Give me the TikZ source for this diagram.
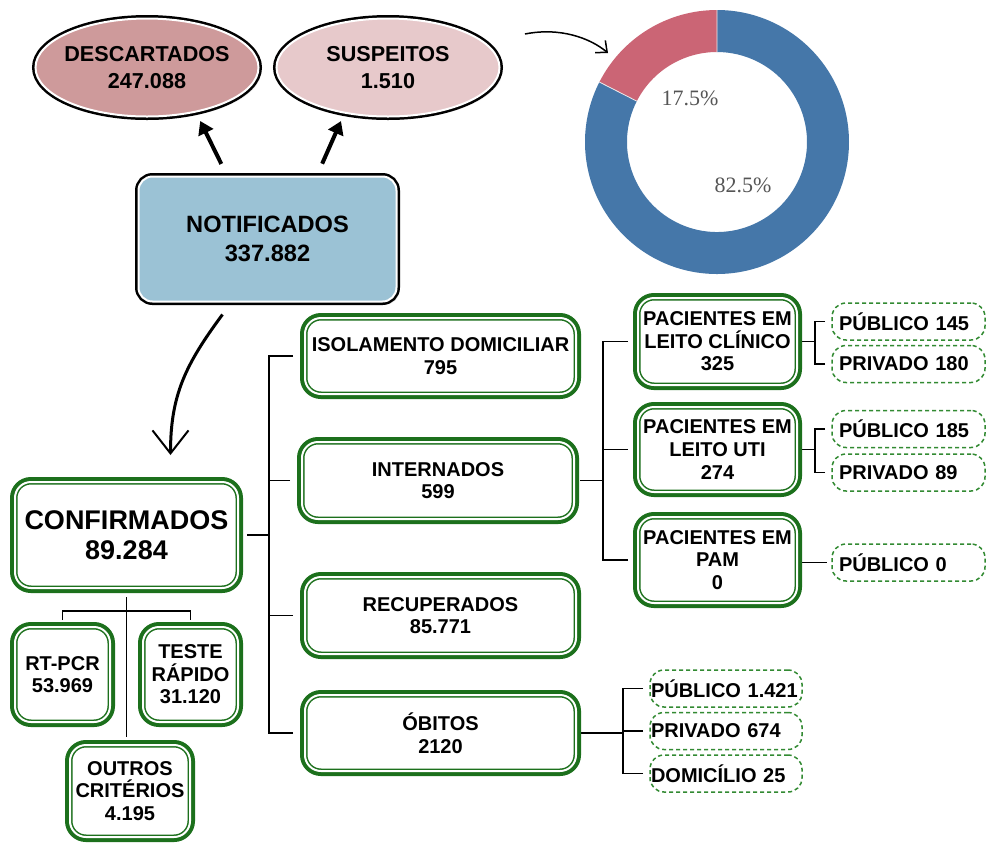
\documentclass[tikz,border=0pt]{standalone}
\usepackage{fontspec}
\setmainfont{Liberation Sans}
\newfontfamily\pctfont{Liberation Serif}
\usetikzlibrary{shapes.geometric,arrows.meta,calc,shadows,backgrounds}

\definecolor{descrose}{RGB}{206,154,155}
\definecolor{susprose}{RGB}{231,201,203}
\definecolor{notifblue}{RGB}{155,194,213}
\definecolor{ringblue}{RGB}{69,119,169}
\definecolor{ringred}{RGB}{203,101,117}
\definecolor{boxgreen}{RGB}{28,112,28}
\definecolor{dashgreen}{RGB}{50,138,50}
\definecolor{pctgray}{RGB}{85,85,85}

\tikzset{
  blackrim/.style={fill=#1,draw=white,line width=1pt,outer sep=0pt,
    drop shadow={shadow xshift=1.5pt,shadow yshift=-1.5pt,opacity=0.2},
    preaction={draw=black,line width=3.5pt}},
  oval/.style={ellipse,blackrim=#1,minimum width=111.5pt,minimum height=49pt,
    inner xsep=-12pt,inner ysep=0pt,align=center,
    font=\fontsize{10.8}{13.5}\selectfont\bfseries},
  gbox/.style={rectangle,rounded corners=8pt,fill=white,draw=boxgreen,
    line width=0.75pt,double=white,double distance=1pt,outer sep=0pt,
    preaction={draw=boxgreen,line width=5pt},align=center,inner sep=1pt,
    font=\fontsize{10}{11.3}\selectfont\bfseries},
  dashbox/.style={rectangle,rounded corners=7pt,draw=dashgreen,fill=white,
    line width=0.75pt,dash pattern=on 2pt off 1.5pt,outer sep=0pt,
    minimum height=18.5pt,text width=69.5pt,inner xsep=3.5pt,inner ysep=0pt,
    align=left,font=\fontsize{10}{11.3}\selectfont\bfseries},
  tline/.style={draw=black,line width=0.9pt},
  fatarrow/.style={line width=2pt,-{Triangle[length=6.5pt,width=8pt]}},
  pctlabel/.style={text=pctgray,font=\pctfont\fontsize{11}{13}\selectfont}
}

\begin{document}
\begin{tikzpicture}[x=0.5pt,y=-0.5pt]
    \useasboundingbox (0,0) rectangle (993,843);

    \node[oval=descrose] (descartados) at (147,67.5) {DESCARTADOS\\247.088};
    \node[oval=susprose] (suspeitos) at (388,67.5) {SUSPEITOS\\1.510};
    \node[rectangle,rounded corners=7pt,blackrim=notifblue,minimum width=129pt,
      minimum height=62.5pt,align=center,font=\fontsize{11.8}{14.5}\selectfont\bfseries]
      (notificados) at (267.5,239) {NOTIFICADOS\\337.882};

    \node[gbox,minimum width=111.5pt,minimum height=53pt,
      font=\fontsize{13.5}{15}\selectfont\bfseries] (confirmados) at (126.5,535) {CONFIRMADOS\\89.284};
    \node[gbox,minimum width=47.5pt,minimum height=47.5pt] (rtpcr) at (62.5,674.5) {RT-PCR\\53.969};
    \node[gbox,minimum width=47.5pt,minimum height=47.5pt] (teste) at (190.5,674.5) {TESTE\\RÁPIDO\\31.120};
    \node[gbox,minimum width=60pt,minimum height=46pt] (outros) at (130,791) {OUTROS\\CRITÉRIOS\\4.195};

    \node[gbox,minimum width=135.5pt,minimum height=38pt] (isolamento) at (440.5,356) {ISOLAMENTO DOMICILIAR\\795};
    \node[gbox,minimum width=136pt,minimum height=38.5pt] (internados) at (438,480.5) {INTERNADOS\\599};
    \node[gbox,minimum width=135.5pt,minimum height=38.5pt] (recuperados) at (440.5,615.5) {RECUPERADOS\\85.771};
    \node[gbox,minimum width=135.5pt,minimum height=38pt] (obitos) at (440.5,733) {ÓBITOS\\2120};

    \node[gbox,minimum width=79.5pt,minimum height=43.5pt] (clinico) at (717.5,341.5) {PACIENTES EM\\LEITO CLÍNICO\\325};
    \node[gbox,minimum width=79.5pt,minimum height=42.5pt] (uti) at (717.5,449.5) {PACIENTES EM\\LEITO UTI\\274};
    \node[gbox,minimum width=79.5pt,minimum height=43pt] (pam) at (717.5,560) {PACIENTES EM\\PAM\\0};

    \node[dashbox] (pub145) at (908.5,321.5) {PÚBLICO 145};
    \node[dashbox] (priv180) at (908.5,364) {PRIVADO 180};
    \node[dashbox] (pub185) at (908.5,429) {PÚBLICO 185};
    \node[dashbox] (priv89) at (908.5,472.5) {PRIVADO 89};
    \node[dashbox] (pub0) at (908.5,562.5) {PÚBLICO 0};
    \node[dashbox,text width=75pt,inner xsep=0.5pt] (pub1421) at (726,688.5) {PÚBLICO 1.421};
    \node[dashbox,text width=75pt,inner xsep=0.5pt] (priv674) at (726,731) {PRIVADO 674};
    \node[dashbox,text width=75pt,inner xsep=0.5pt] (domic25) at (726,773.5) {DOMICÍLIO 25};

    \begin{scope}[on background layer]
      \coordinate (cbus) at ($(confirmados.east)+(31,0)$);
      \draw[tline] ([xshift=4.5pt]confirmados.east) -- (cbus);
      \foreach \n in {isolamento,internados,recuperados,obitos}
        \draw[tline] ([xshift=-6pt]\n.west) -| (cbus);

      \coordinate (ibus) at ($(internados.east)+(29,0)$);
      \draw[tline] ([xshift=3pt]internados.east) -- (ibus);
      \foreach \n in {clinico,uti,pam}
        \draw[tline] ([xshift=-5pt]\n.west) -| (ibus);

      \coordinate (kbus) at ($(clinico.east)+(18,0)$);
      \draw[tline] (clinico.east) -- (kbus);
      \foreach \n in {pub145,priv180}
        \draw[tline] ([xshift=-3.5pt]\n.west) -| (kbus);

      \coordinate (ubus) at ($(uti.east)+(18,0)$);
      \draw[tline] (uti.east) -- (ubus);
      \foreach \n in {pub185,priv89}
        \draw[tline] ([xshift=-3.5pt]\n.west) -| (ubus);

      \draw[tline] (pam.east |- pub0.west) -- ([xshift=-2.5pt]pub0.west);

      \coordinate (obus) at ($(obitos.east)+(47,0)$);
      \draw[tline] (obitos.east) -- (obus);
      \foreach \n in {pub1421,priv674,domic25}
        \draw[tline] ([xshift=-3.5pt]\n.west) -| (obus);

      \coordinate (cbar) at ($(confirmados.south)+(0,23)$);
      \draw[tline] ($(confirmados.south)+(0,9)$) -- ($(confirmados.south |- outros.north)+(0,-8)$);
      \draw[tline] ($(rtpcr.north)+(0,-7)$) |- (cbar) -| ($(teste.north)+(0,-7)$);
    \end{scope}

    \draw[fatarrow,shorten <=7pt,shorten >=2.5pt] ($(notificados.north)+(-40,0)$) -- ($(descartados.south)+(51,0)$);
    \draw[fatarrow,shorten <=7pt,shorten >=2.5pt] ($(notificados.north)+(49,0)$) -- ($(suspeitos.south)+(-45,0)$);

    \draw[line width=1.5pt,-{Straight Barb[length=11.5pt,width=18pt,line width=1pt]}]
      ($(notificados.south)+(-45,13)$) .. controls +(-37,50) and +(0,-60) .. ($(confirmados.north)+(44,-27)$);

    \coordinate (ringarrow) at (525,34);
    \coordinate (ringtip) at (608,53);
    \draw[line width=0.75pt,-{Straight Barb[length=4.5pt,width=8pt]}]
      (ringarrow) .. controls (560,27) and (590,38) .. (ringtip);

    \begin{scope}[shift={(717,142)},x=0.5pt,y=0.5pt]
      \fill[ringblue] (90:132) arc[start angle=90,end angle=-207,radius=132]
        -- (-207:90) arc[start angle=-207,end angle=90,radius=90] -- cycle;
      \fill[ringred] (90:132) arc[start angle=90,end angle=153,radius=132]
        -- (153:90) arc[start angle=153,end angle=90,radius=90] -- cycle;
      \draw[white!85!gray,line width=0.4pt] (90:90) -- (90:132) (153:90) -- (153:132);
      \node[pctlabel] (pctred) at (-27,44) {17.5\%};
      \node[pctlabel] (pctblue) at (26,-43) {82.5\%};
    \end{scope}
\end{tikzpicture}
\end{document}
